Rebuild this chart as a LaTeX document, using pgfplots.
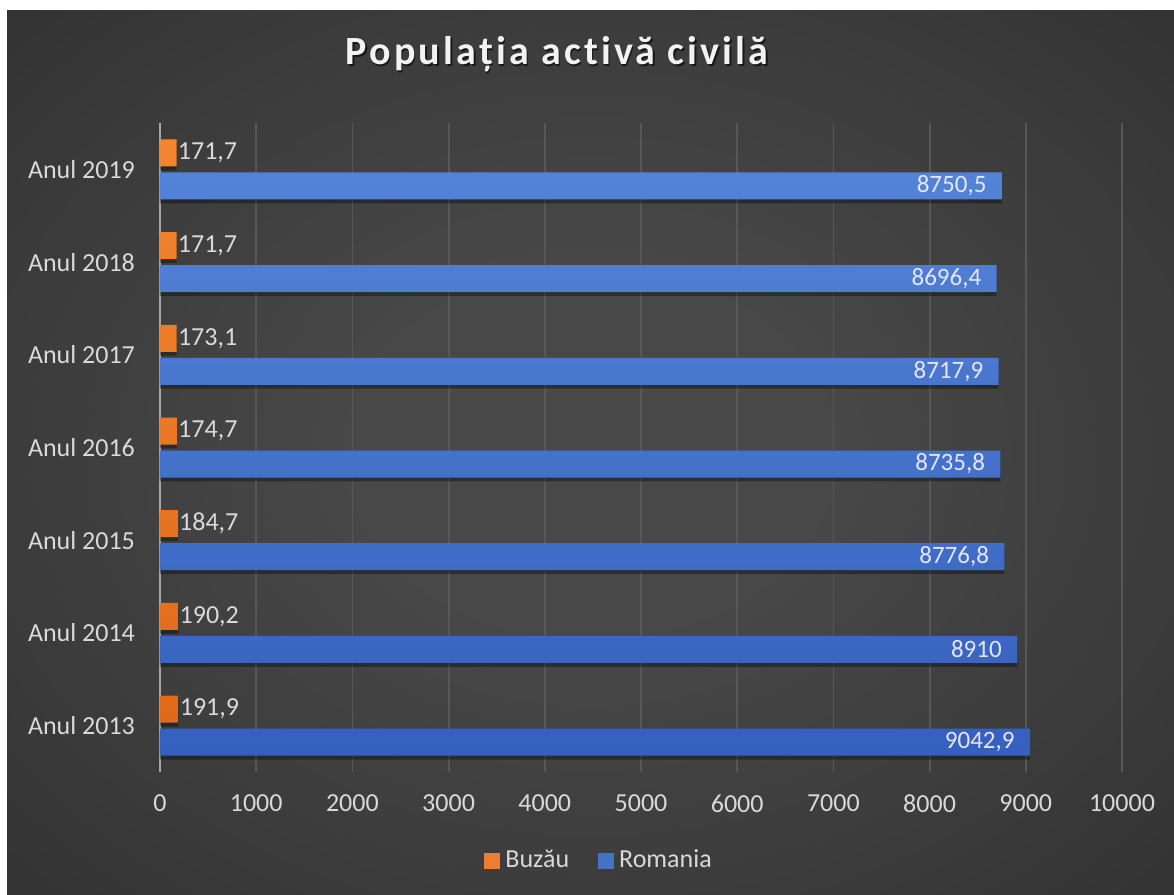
\documentclass[border=0pt]{standalone}
\usepackage{fontspec}
\setmainfont{Carlito}
\usepackage{pgfplots}
\pgfplotsset{compat=1.18}
\usepackage{pgfplotstable}
\definecolor{bgin}{HTML}{484848}
\definecolor{bgmid}{HTML}{363636}
\definecolor{bgout}{HTML}{222222}
\definecolor{gridc}{HTML}{575757}
\definecolor{zeroc}{HTML}{A6A6A6}
\definecolor{tickc}{HTML}{D9D9D9}
\definecolor{blueT}{HTML}{5383D6}
\definecolor{blueB}{HTML}{3560BE}
\definecolor{orT}{HTML}{F3852F}
\definecolor{orB}{HTML}{E06A18}
\definecolor{legblue}{HTML}{4472C4}
\definecolor{legor}{HTML}{ED7D31}
\pgfdeclareradialshading{bgshade}{\pgfpoint{0bp}{0bp}}{color(0bp)=(bgin); color(10bp)=(bgin); color(32bp)=(bgmid); color(52bp)=(bgout); color(72bp)=(bgout)}

\pgfplotstableread{
y x label
0 191.9 191,9
1 190.2 190,2
2 184.7 184,7
3 174.7 174,7
4 173.1 173,1
5 171.7 171,7
6 171.7 171,7
}\buzau

\pgfplotstableread{
y x label
0 9042.9 9042,9
1 8910 8910
2 8776.8 8776,8
3 8735.8 8735,8
4 8717.9 8717,9
5 8696.4 8696,4
6 8750.5 8750,5
}\romania

\newcommand\titlefont{\fontsize{20}{24}\selectfont\bfseries\addfontfeatures{LetterSpace=8,Ligatures=NoCommon}}

\begin{document}
\begin{tikzpicture}
\useasboundingbox (0,0) rectangle (587pt,447.5pt);
\fill[white] (0,0) rectangle (587pt,447.5pt);
\shade[shading=bgshade] (3.5pt,0) rectangle (587pt,442pt);
\node[anchor=base, text=black, opacity=0.6, font=\titlefont] at (279.3pt,414.3pt) {Populația activă civilă};
\node[anchor=base, text=white!95!black, font=\titlefont] at (278.5pt,415pt) {Populația activă civilă};
\begin{axis}[
  at={(80pt,61.5pt)}, anchor=south west,
  scale only axis, width=481pt, height=324.5pt,
  xmin=0, xmax=10000, ymin=-0.5, ymax=6.5,
  xbar, bar width=13.5pt,
  xtick={0,1000,...,10000},
  ytick={0,...,6},
  yticklabels={Anul 2013,Anul 2014,Anul 2015,Anul 2016,Anul 2017,Anul 2018,Anul 2019},
  scaled x ticks=false,
  /pgf/number format/1000 sep={},
  /pgf/number format/assume math mode=true,
  xmajorgrids, grid style={draw=gridc, line width=0.9pt},
  extra x ticks={0}, extra x tick labels={},
  extra x tick style={xmajorgrids=true, grid style={draw=zeroc, line width=1.1pt}},
  major tick length=0pt,
  axis line style={draw=none},
  tick label style={font=\fontsize{13}{15}\selectfont, text=tickc},
  xticklabel style={yshift=-8pt},
  yticklabel style={xshift=-9pt},
  legend style={at={(0.458,-0.1364)}, anchor=center, draw=none, fill=none,
    text=tickc, font=\fontsize{13}{15}\selectfont, legend columns=2,
    /tikz/every even column/.append style={column sep=12pt},
    nodes={inner xsep=2.5pt}},
  legend image code/.code={\fill[draw=none,#1] (0pt,-4pt) rectangle (8pt,4pt);},
]
\addlegendimage{fill=legor}
\addlegendentry{Buzău}
\addlegendimage{fill=legblue}
\addlegendentry{Romania}
% shadows
\addplot[forget plot, draw=none, fill=black, fill opacity=0.35, bar shift=6.3pt]
  table[x=x,y=y] {\buzau};
\addplot[forget plot, draw=none, fill=black, fill opacity=0.35, bar shift=-10.2pt]
  table[x=x,y=y] {\romania};
% bars
\addplot[forget plot, draw=none, top color=orT, bottom color=orB, bar shift=8.25pt]
  table[x=x,y=y] {\buzau};
\addplot[forget plot, draw=none, top color=blueT, bottom color=blueB, bar shift=-8.25pt]
  table[x=x,y=y] {\romania};
% labels
\addplot[forget plot, draw=none, fill=none, bar shift=8.25pt,
  point meta=explicit symbolic, nodes near coords={\pgfplotspointmeta},
  nodes near coords style={anchor=west, inner sep=0.5pt, text=tickc, font=\fontsize{13}{15}\selectfont}]
  table[x=x,y=y,meta=label] {\buzau};
\addplot[forget plot, draw=none, fill=none, bar shift=-8.25pt,
  point meta=explicit symbolic, nodes near coords={\pgfplotspointmeta\hspace{7pt}},
  nodes near coords style={anchor=east, inner sep=0pt, xshift=-7.5pt, text=white!90!blue, font=\fontsize{12.5}{15}\selectfont}]
  table[x=x,y=y,meta=label] {\romania};
\end{axis}
\end{tikzpicture}
\end{document}
